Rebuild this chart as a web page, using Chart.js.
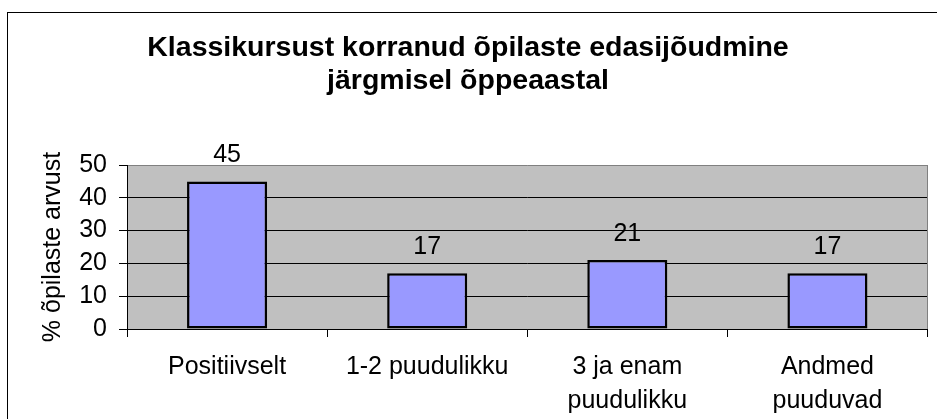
<!DOCTYPE html>
<html>
<head>
<meta charset="utf-8">
<script src="https://cdn.jsdelivr.net/npm/chart.js@4/dist/chart.umd.min.js"></script>
<style>
  html, body { margin: 0; padding: 0; background: #ffffff; }
  #c { display: block; width: 937px; height: 419px; }
</style>
</head>
<body>
<canvas id="c" width="937" height="419" style="width:937px;height:419px;"></canvas>
<script>
// ---- data ----
const titleLines = ['Klassikursust korranud õpilaste edasijõudmine', 'järgmisel õppeaastal'];
const yAxisTitle = '% õpilaste arvust';
const categories = ['Positiivselt', '1-2 puudulikku', ['3 ja enam', 'puudulikku'], ['Andmed', 'puuduvad']];
const values = [45, 17, 21, 17];
const yTickValues = [0, 10, 20, 30, 40, 50];

const FONT = "'Liberation Sans', Arial, sans-serif";

const backgroundPlugin = {
  id: 'bgPlot',
  beforeDraw(chart) {
    const ctx = chart.ctx;
    const a = chart.chartArea;
    ctx.save();
    ctx.fillStyle = '#ffffff';
    ctx.fillRect(0, 0, chart.width, chart.height);
    ctx.strokeStyle = '#000000';
    ctx.lineWidth = 1;
    ctx.strokeRect(7.5, 12.5, chart.width + 20, chart.height + 20);
    ctx.fillStyle = '#C0C0C0';
    ctx.fillRect(a.left, a.top, a.right - a.left, a.bottom - a.top);
    ctx.restore();
  },
  beforeDatasetsDraw(chart) {
    const ctx = chart.ctx;
    const a = chart.chartArea;
    ctx.save();
    ctx.strokeStyle = '#808080';
    ctx.lineWidth = 1;
    ctx.beginPath();
    ctx.moveTo(a.right, a.top);
    ctx.lineTo(a.right, a.bottom);
    ctx.stroke();
    ctx.restore();
  }
};

const valueLabelPlugin = {
  id: 'valueLabels',
  afterDatasetsDraw(chart) {
    const ctx = chart.ctx;
    const meta = chart.getDatasetMeta(0);
    ctx.save();
    ctx.fillStyle = '#000000';
    ctx.font = '25px ' + FONT;
    ctx.textAlign = 'center';
    ctx.textBaseline = 'alphabetic';
    meta.data.forEach((bar, i) => {
      ctx.fillText(String(values[i]), bar.x, bar.y - 19);
    });
    ctx.restore();
  }
};

new Chart(document.getElementById('c'), {
  type: 'bar',
  data: {
    labels: categories,
    datasets: [{
      data: values,
      backgroundColor: '#9999FF',
      borderColor: '#000000',
      borderWidth: 2.5,
      borderSkipped: false,
      barPercentage: 0.4,
      categoryPercentage: 1.0
    }]
  },
  options: {
    responsive: false,
    animation: false,
    devicePixelRatio: 1,
    layout: { padding: { left: 8.5, right: 9.5, top: 0, bottom: 0 } },
    plugins: {
      legend: { display: false },
      tooltip: { enabled: false },
      title: {
        display: true,
        text: titleLines,
        color: '#000000',
        font: { family: FONT, size: 28.5, weight: 'bold', lineHeight: '33px' },
        padding: { top: 31.5, bottom: 67.5 }
      }
    },
    scales: {
      x: {
        offset: true,
        grid: {
          offset: true,
          drawOnChartArea: false,
          drawTicks: true,
          tickLength: 8,
          color: '#000000',
          lineWidth: 1
        },
        border: { display: true, color: '#000000', width: 1 },
        ticks: {
          color: '#000000',
          font: { family: FONT, size: 25, lineHeight: '34px' },
          padding: 13,
          maxRotation: 0,
          autoSkip: false
        },
        afterFit(scale) { scale.height = 90; }
      },
      y: {
        min: 0,
        max: 50,
        afterBuildTicks(scale) { scale.ticks = yTickValues.map(v => ({ value: v })); },
        grid: {
          color: (c) => (c.tick && c.tick.value === 50 ? '#808080' : '#000000'),
          tickColor: '#000000',
          lineWidth: 1,
          drawTicks: true,
          tickLength: 8
        },
        border: { display: true, color: '#000000', width: 1 },
        ticks: {
          color: '#000000',
          font: { family: FONT, size: 25 },
          padding: 12,
          autoSkip: false
        },
        title: {
          display: true,
          text: yAxisTitle,
          color: '#000000',
          font: { family: FONT, size: 25, lineHeight: 1.2 },
          padding: { top: 29.5, bottom: 0 }
        },
        afterFit(scale) { scale.width = 118.5; }
      }
    }
  },
  plugins: [backgroundPlugin, valueLabelPlugin]
});
</script>
</body>
</html>
